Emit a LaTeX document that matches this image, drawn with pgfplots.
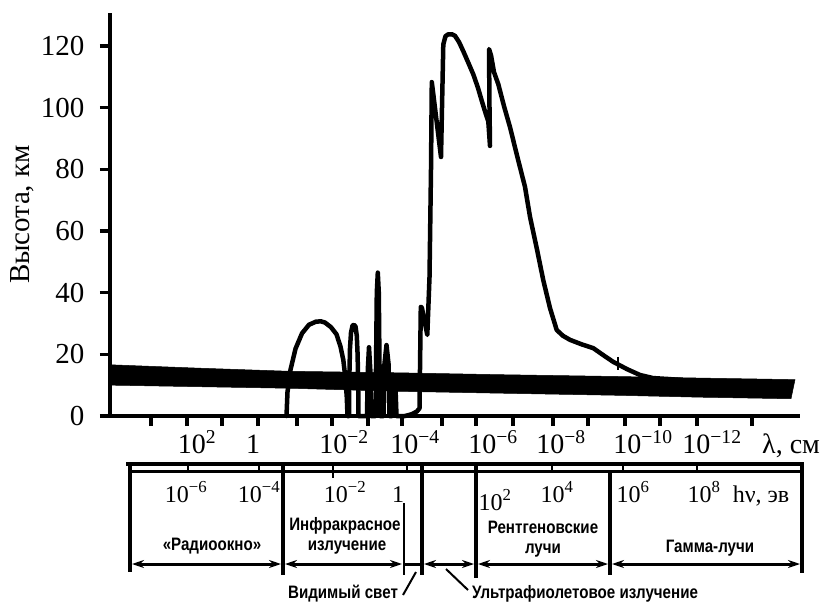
\documentclass[border=0pt]{standalone}
\usepackage{fontspec}
\setmainfont{Liberation Serif}
\newfontfamily\lsans{Liberation Sans}
\usepackage{graphicx}
\usepackage{pgfplots}
\pgfplotsset{compat=1.18}
\usetikzlibrary{arrows.meta}
\newcommand{\cond}[1]{\scalebox{0.84}[1]{#1}}
\begin{document}
\begin{tikzpicture}
\path[use as bounding box] (-110pt,-187pt) rectangle (714pt,416pt);
\begin{axis}[
  at={(0,0)}, anchor=south west,
  scale only axis, width=690pt, height=403pt,
  xmin=110, xmax=800, ymin=0, ymax=130.7,
  axis x line=bottom, axis y line=left,
  axis line style={line width=3.8pt,-},
  tick align=outside,
  major tick length=10pt,
  tick style={line width=3.2pt,black},
  xtick={151,187,222,258,297,332,368,402,442,476,513,553,588,625,660,697,752},
  xticklabels={},
  ytick={0,20,40,60,80,100,120},
  /pgf/number format/assume math mode=true,
  yticklabel style={font=\fontsize{29}{32}\selectfont, xshift=-12pt},
  ylabel={Высота, км},
  ylabel style={font=\fontsize{29}{32}\selectfont, yshift=0pt},
  clip=false,
]
% thick band
\addplot[fill=black, draw=black, line width=0.5pt] coordinates {
 (111,16.6) (200,15.5) (290,14.5) (400,14.0) (500,13.4) (620,12.8) (700,12.3) (795,11.8)
 (791,5.6) (700,6.1) (620,6.7) (500,7.4) (400,8.0) (290,9.0) (200,9.5) (111,10.0)} -- cycle;
% absorption curve
\addplot[line width=4.5pt, line join=round, line cap=round] coordinates {
 (286.5,0) (287.5,7.8) (290.5,15) (295.5,21.8) (302,26.8) (309,29.6) (316,30.6) (321,30.7)
 (325,30.3) (331,28.8) (336.5,26.5) (340.5,22.5) (343.3,18.2) (345.5,12) (346.8,6) (347.5,0)
 (349,0) (349.3,12) (350,22) (351,27) (352.5,29.3) (354,29.6) (355.5,29) (356.8,26) (357.6,20) (358.2,10) (358.5,0)
 (367,0) (367.8,15) (369,22.3) (370.3,15) (371,0)
 (375.5,0) (376.8,40) (377.8,46.5) (378.8,40) (380,0)
 (383.5,0) (384.5,17) (386.5,23) (388.5,17) (389.5,0)
 (392,0) (393,9) (395.5,9) (396.5,0)
 (405,0) (412,0.6) (417,1.5) (419.5,2.5) (420.8,35.4) (421.8,35.2) (427.3,26.3) (429.5,45) (431,80) (431.8,108.3)
 (441,84) (442,100) (443.3,120.5) (445.5,123.2) (448.3,123.8) (452,123.8) (455,123.3) (459,121.3) (463.3,118.3)
 (468,114.8) (473.3,110.8) (478,106.4) (481.7,102.3) (485,98.8) (488.3,95.5) (490,87.6)
 (489.5,100) (489,119) (491,117) (494,111.5) (498.3,107.6) (504,100.5) (510,93.7) (517,84.5) (525,74.3)
 (530,64.6) (537,54) (543.3,44) (550,35) (556.7,27.9) (563,26) (570,24.7) (582,23.2) (593.3,22)
 (603,19.8) (613,17.6) (627,15.2) (640,13.3) (653,12.3) (668,12) (680,11.7)};
\addplot[line width=2.5pt] coordinates {(618,19.2) (618,15)};
\end{axis}
\begin{scope}[x=1pt,y=-1pt,shift={(-110pt,416pt)}]
 % wavelength labels
 \begin{scope}[every node/.style={anchor=base, inner sep=0pt, font=\fontsize{28}{30}\selectfont}]
  \node at (197,453) {10\textsuperscript{2}};
  \node at (253,453) {1};
  \node at (344,453) {10\textsuperscript{−2}};
  \node at (415,453) {10\textsuperscript{−4}};
  \node at (493,453) {10\textsuperscript{−6}};
  \node at (561,453) {10\textsuperscript{−8}};
  \node at (643,453) {10\textsuperscript{−10}};
  \node at (712,453) {10\textsuperscript{−12}};
  \node[anchor=base west] at (762,453) {λ, см};
 \end{scope}
 % double line
 \draw[line width=3.8pt] (126,464) -- (804,464);
 \draw[line width=2.8pt] (128,471.5) -- (804,471.5);
 \foreach \xx in {188,259,407,552,623,697} \draw[line width=2.2pt] (\xx,464) -- (\xx,472);
 \draw[line width=2.8pt] (333,464) -- (333,478);
 % separators
 \draw[line width=3.2pt] (130,464) -- (130,572);
 \draw[line width=3.2pt] (283,464) -- (283,575);
 \draw[line width=2.8pt] (404,503) -- (404,575);
 \draw[line width=3.2pt] (422,464) -- (422,575);
 \draw[line width=3.2pt] (476,464) -- (476,578);
 \draw[line width=3.2pt] (610,472) -- (610,575);
 \draw[line width=3.2pt] (802,464) -- (802,573);
 % arrows
 \begin{scope}[line width=3pt, arrows={Stealth[length=12pt,width=8pt]-Stealth[length=12pt,width=8pt]}]
  \draw (132,564) -- (281,564);
  \draw (285,564) -- (402,564);
  \draw (424,564) -- (474,564);
  \draw (478,564) -- (608,564);
  \draw (612,564) -- (800,564);
 \end{scope}
 \draw[line width=3pt] (404,564) -- (422,564);
 % energy labels
 \begin{scope}[every node/.style={anchor=base, inner sep=0pt, font=\fontsize{24}{26}\selectfont}]
  \node at (186,502) {10\textsuperscript{−6}};
  \node at (259,502) {10\textsuperscript{−4}};
  \node at (345,502) {10\textsuperscript{−2}};
  \node at (398,502) {1};
  \node at (495,510) {10\textsuperscript{2}};
  \node at (557,502) {10\textsuperscript{4}};
  \node at (633,502) {10\textsuperscript{6}};
  \node at (704,502) {10\textsuperscript{8}};
  \node at (761,502) {hν, эв};
 \end{scope}
 % region labels
 \begin{scope}[every node/.style={anchor=base, inner sep=0pt, font=\lsans\bfseries\fontsize{18}{20}\selectfont}]
  \node at (212,550) {\cond{«Радиоокно»}};
  \node at (345,530) {\cond{Инфракрасное}};
  \node at (347,550) {\cond{излучение}};
  \node at (543,533) {\cond{Рентгеновские}};
  \node at (543,553) {\cond{лучи}};
  \node at (710,552) {\cond{Гамма-лучи}};
  \node at (343,598) {\cond{Видимый свет}};
  \node at (585,598) {\cond{Ультрафиолетовое излучение}};
 \end{scope}
 \draw[line width=2pt] (416,572) -- (403,595);
 \draw[line width=2pt] (446,569) -- (468,590);
\end{scope}
\end{tikzpicture}
\end{document}
